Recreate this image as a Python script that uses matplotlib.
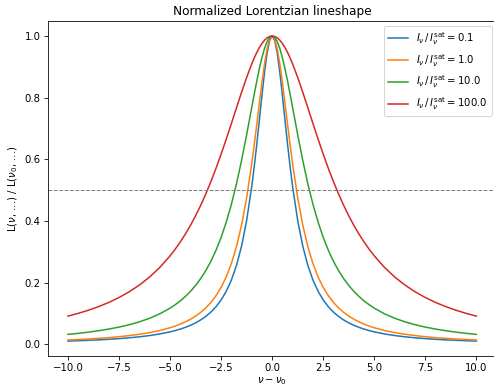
import matplotlib
matplotlib.use("Agg")
import matplotlib.pyplot as plt

# detuning grid (nu - nu0)
detuning = [-10, -9.5, -9, -8.5, -8, -7.5, -7, -6.5, -6, -5.5, -5, -4.75, -4.5, -4.25, -4,
            -3.75, -3.5, -3.25, -3, -2.75, -2.5, -2.25, -2, -1.75, -1.5, -1.25, -1,
            -0.875, -0.75, -0.625, -0.5, -0.375, -0.25, -0.125, 0,
            0.125, 0.25, 0.375, 0.5, 0.625, 0.75, 0.875, 1, 1.25, 1.5, 1.75, 2, 2.25, 2.5,
            2.75, 3, 3.25, 3.5, 3.75, 4, 4.25, 4.5, 4.75, 5, 5.5, 6, 6.5, 7, 7.5, 8, 8.5,
            9, 9.5, 10]

saturation = [0.1, 1.0, 10.0, 100.0]

line_s01 = [0.0104, 0.0115, 0.0128, 0.0143, 0.0161, 0.0183, 0.0210, 0.0242, 0.0283, 0.0335,
            0.0403, 0.0444, 0.0492, 0.0549, 0.0615, 0.0694, 0.0789, 0.0903, 0.1044, 0.1218,
            0.1437, 0.1716, 0.2077, 0.2551, 0.3179, 0.4016, 0.5119, 0.5780, 0.6509, 0.7286,
            0.8075, 0.8818, 0.9438, 0.9853, 1.0,
            0.9853, 0.9438, 0.8818, 0.8075, 0.7286, 0.6509, 0.5780, 0.5119, 0.4016, 0.3179,
            0.2551, 0.2077, 0.1716, 0.1437, 0.1218, 0.1044, 0.0903, 0.0789, 0.0694, 0.0615,
            0.0549, 0.0492, 0.0444, 0.0403, 0.0335, 0.0283, 0.0242, 0.0210, 0.0183, 0.0161,
            0.0143, 0.0128, 0.0115, 0.0104]
line_s1 = [0.0139, 0.0154, 0.0172, 0.0192, 0.0216, 0.0245, 0.0281, 0.0324, 0.0378, 0.0447,
           0.0535, 0.0590, 0.0653, 0.0726, 0.0812, 0.0914, 0.1035, 0.1181, 0.1358, 0.1575,
           0.1845, 0.2184, 0.2612, 0.3159, 0.3860, 0.4751, 0.5858, 0.6488, 0.7154, 0.7836,
           0.8498, 0.9096, 0.9577, 0.9891, 1.0,
           0.9891, 0.9577, 0.9096, 0.8498, 0.7836, 0.7154, 0.6488, 0.5858, 0.4751, 0.3860,
           0.3159, 0.2612, 0.2184, 0.1845, 0.1575, 0.1358, 0.1181, 0.1035, 0.0914, 0.0812,
           0.0726, 0.0653, 0.0590, 0.0535, 0.0447, 0.0378, 0.0324, 0.0281, 0.0245, 0.0216,
           0.0192, 0.0172, 0.0154, 0.0139]
line_s10 = [0.0321, 0.0354, 0.0393, 0.0439, 0.0493, 0.0557, 0.0634, 0.0728, 0.0844, 0.0988,
            0.1171, 0.1282, 0.1407, 0.1551, 0.1717, 0.1908, 0.2131, 0.2390, 0.2693, 0.3049,
            0.3467, 0.3958, 0.4533, 0.5199, 0.5958, 0.6798, 0.7683, 0.8125, 0.8550, 0.8946,
            0.9299, 0.9593, 0.9815, 0.9953, 1.0,
            0.9953, 0.9815, 0.9593, 0.9299, 0.8946, 0.8550, 0.8125, 0.7683, 0.6798, 0.5958,
            0.5199, 0.4533, 0.3958, 0.3467, 0.3049, 0.2693, 0.2390, 0.2131, 0.1908, 0.1717,
            0.1551, 0.1407, 0.1282, 0.1171, 0.0988, 0.0844, 0.0728, 0.0634, 0.0557, 0.0493,
            0.0439, 0.0393, 0.0354, 0.0321]
line_s100 = [0.0913, 0.1002, 0.1104, 0.1221, 0.1357, 0.1516, 0.1702, 0.1922, 0.2182, 0.2494,
             0.2867, 0.3082, 0.3317, 0.3575, 0.3858, 0.4168, 0.4507, 0.4876, 0.5276, 0.5706,
             0.6166, 0.6650, 0.7153, 0.7664, 0.8171, 0.8654, 0.9095, 0.9292, 0.9470, 0.9626,
             0.9757, 0.9862, 0.9938, 0.9984, 1.0,
             0.9984, 0.9938, 0.9862, 0.9757, 0.9626, 0.9470, 0.9292, 0.9095, 0.8654, 0.8171,
             0.7664, 0.7153, 0.6650, 0.6166, 0.5706, 0.5276, 0.4876, 0.4507, 0.4168, 0.3858,
             0.3575, 0.3317, 0.3082, 0.2867, 0.2494, 0.2182, 0.1922, 0.1702, 0.1516, 0.1357,
             0.1221, 0.1104, 0.1002, 0.0913]

series = [line_s01, line_s1, line_s10, line_s100]
half_level = 0.5

DPI = 73
fig = plt.figure(figsize=(494 / DPI, 386 / DPI), dpi=DPI)
ax = fig.add_axes([0.0962, 0.0769, 0.9095, 0.8694])

for s, vals in zip(saturation, series):
    ax.plot(detuning, vals, lw=1.5,
            label=r"$I_\nu\,/\,I_\nu^{\rm sat} = %s$" % s)

ax.axhline(half_level, color="gray", ls="--", lw=1.0)

ax.set_title("Normalized Lorentzian lineshape")
ax.set_xlabel(r"$\nu - \nu_0$", labelpad=1.5)
ax.set_ylabel(r"L($\nu$, ...) / L($\nu_0$, ...)")
ax.legend(loc="upper right")

fig.savefig("out.png", dpi=DPI)
